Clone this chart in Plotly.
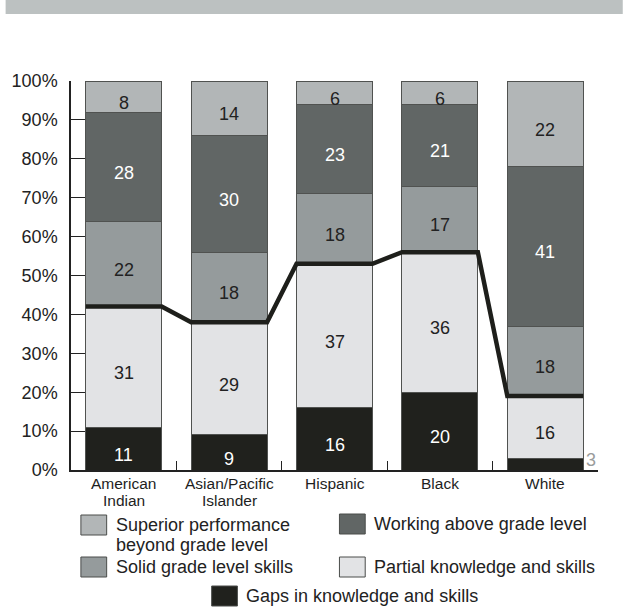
import plotly.graph_objects as go

# ---------------- data ----------------
categories = ["American Indian", "Asian/Pacific Islander", "Hispanic", "Black", "White"]
category_lines = [["American", "Indian"], ["Asian/Pacific", "Islander"], ["Hispanic"], ["Black"], ["White"]]

gaps = [11, 9, 16, 20, 3]
partial = [31, 29, 37, 36, 16]
solid = [22, 18, 18, 17, 18]
working = [28, 30, 23, 21, 41]
superior = [8, 14, 6, 6, 22]

y_ticks = [0, 10, 20, 30, 40, 50, 60, 70, 80, 90, 100]

series_names = [
    "Gaps in knowledge and skills",
    "Partial knowledge and skills",
    "Solid grade level skills",
    "Working above grade level",
    "Superior performance beyond grade level",
]
series_values = [gaps, partial, solid, working, superior]

# ---------------- style ----------------
colors = ["#20211d", "#e2e3e5", "#959b9c", "#616665", "#b2b6b7"]
text_colors = ["white", "#222222", "#222222", "white", "#222222"]
FONT = "Liberation Sans, Arial, sans-serif"
W, H = 623, 614
L, R, T, B = 66, 25, 81, 144
bar_w = 0.72
min_inside = 5  # segments smaller than this get their label outside

plot_w = W - L - R
plot_h = H - T - B


def px_x(px):
    return (px - L) / plot_w


def px_y(py):
    return (H - B - py) / plot_h


fig = go.Figure()
xs = list(range(len(categories)))

for name, vals, col in zip(series_names, series_values, colors):
    fig.add_trace(go.Bar(
        x=xs, y=vals, name=name, width=bar_w,
        marker=dict(color=col, line=dict(color="#505250", width=1)),
        hoverinfo="skip", showlegend=False,
    ))

# segment value labels
annotations = []
base = [0] * len(categories)
for vals, tcol in zip(series_values, text_colors):
    for i, v in enumerate(vals):
        if v >= min_inside:
            annotations.append(dict(
                x=i, y=base[i] + v / 2, xref="x", yref="y", text=str(v),
                showarrow=False, yshift=-6,
                font=dict(family=FONT, size=18, color=tcol),
            ))
        else:
            annotations.append(dict(
                x=i + bar_w / 2, y=0, xref="x", yref="y", text=str(v),
                showarrow=False, xanchor="left", yanchor="bottom", xshift=1, yshift=-2,
                font=dict(family=FONT, size=18, color="#9a9c9c"),
            ))
        base[i] += v

# thick line at the top of "partial" (gaps + partial)
line_x, line_y = [], []
for i in xs:
    lvl = gaps[i] + partial[i]
    line_x += [i - bar_w / 2, i + bar_w / 2]
    line_y += [lvl, lvl]
fig.add_trace(go.Scatter(
    x=line_x, y=line_y, mode="lines",
    line=dict(color="#1e1f1b", width=4.5),
    hoverinfo="skip", showlegend=False,
))

# category labels under the axis
for i, lines in enumerate(category_lines):
    for j, txt in enumerate(lines):
        annotations.append(dict(
            x=i, y=0, xref="x", yref="y", text=txt, showarrow=False,
            yanchor="middle", yshift=-13 - 17 * j,
            font=dict(family=FONT, size=15.5, color="#1e1e1e"),
        ))

# custom legend
legend_items = [
    (4, 76, 515, ["Superior performance", "beyond grade level"]),
    (3, 337, 514, ["Working above grade level"]),
    (2, 76, 557, ["Solid grade level skills"]),
    (1, 337, 557, ["Partial knowledge and skills"]),
    (0, 208, 586, ["Gaps in knowledge and skills"]),
]
shapes = [dict(
    type="rect", xref="paper", yref="paper",
    x0=px_x(0), x1=px_x(W), y0=px_y(14), y1=px_y(0),
    fillcolor="#bcc1c1", line=dict(width=0), layer="below",
)]
for idx, bx, by, lines in legend_items:
    shapes.append(dict(
        type="rect", xref="paper", yref="paper",
        x0=px_x(bx), x1=px_x(bx + 26), y0=px_y(by + 20), y1=px_y(by),
        fillcolor=colors[idx], line=dict(color="#4a4c4a", width=1),
    ))
    for j, txt in enumerate(lines):
        annotations.append(dict(
            x=px_x(bx + 33), y=px_y(by + 10 + 20 * j), xref="paper", yref="paper",
            text=txt, showarrow=False, xanchor="left", yanchor="middle",
            font=dict(family=FONT, size=18, color="#222222"),
        ))

fig.update_layout(
    barmode="stack",
    width=W, height=H,
    margin=dict(l=L, r=R, t=T, b=B, pad=0),
    paper_bgcolor="white", plot_bgcolor="white",
    font=dict(family=FONT, size=18, color="#222222"),
    xaxis=dict(
        range=[-0.5, len(categories) - 0.5],
        tickvals=[i + 0.5 for i in xs], ticktext=[""] * len(xs),
        ticks="inside", ticklen=9, tickcolor="#222222", tickwidth=1,
        showline=True, linecolor="#222222", linewidth=1.5,
        showgrid=False, zeroline=False, fixedrange=True,
    ),
    yaxis=dict(
        range=[0, 100],
        tickvals=y_ticks, ticktext=[f"{t}%" for t in y_ticks],
        ticks="inside", ticklen=14, tickcolor="#222222", tickwidth=1,
        showline=True, linecolor="#222222", linewidth=1.5,
        showgrid=False, zeroline=False, ticklabelstandoff=8, fixedrange=True,
        tickfont=dict(family=FONT, size=18, color="#222222"),
    ),
    shapes=shapes,
    annotations=annotations,
)

fig.write_html("out.html", config={"displayModeBar": False},
               post_script="document.body.style.margin='0';")
